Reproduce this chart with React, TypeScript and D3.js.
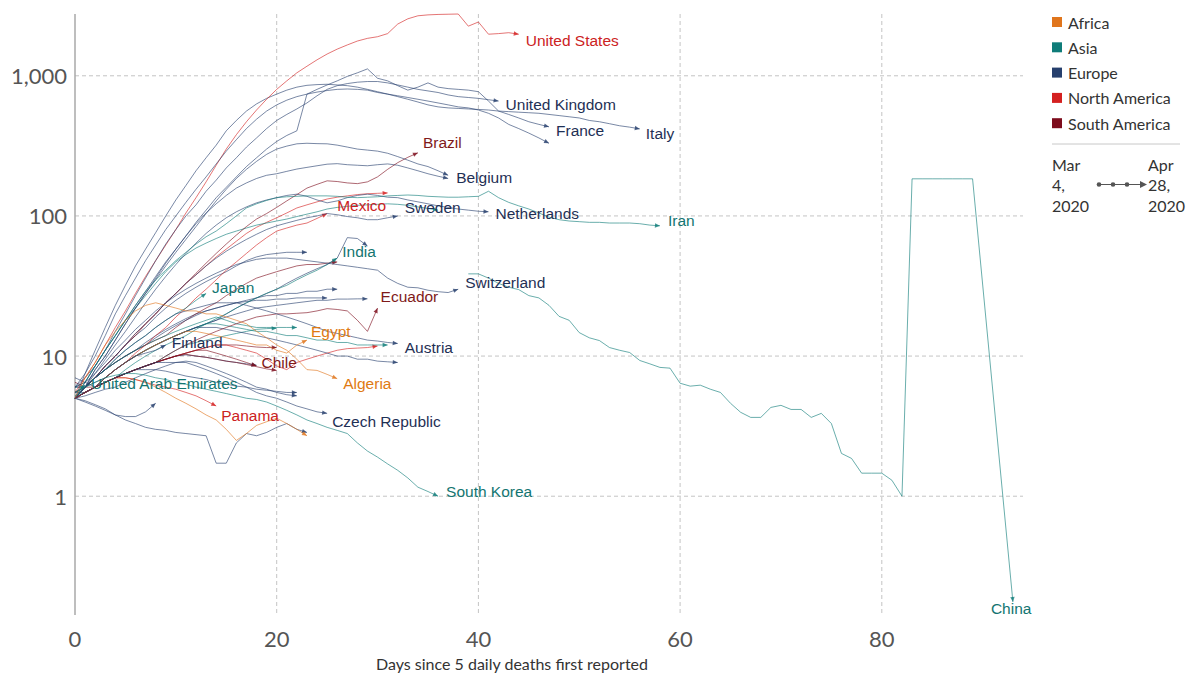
import React from "react";
import * as d3 from "d3";

// ---------- legend / axes ----------
const continents = ["Africa", "Asia", "Europe", "North America", "South America"];
const continentColors = ["#e0751c", "#0f7c79", "#263f6d", "#d42020", "#7d0c1c"];
const labelColors = ["#df7a12", "#137571", "#1f3055", "#cc2222", "#7f1a1a"];
const yTicks = [1, 10, 100, 1000];
const xTicks = [0, 20, 40, 60, 80];
const dateStart = ["Mar", "4,", "2020"];
const dateEnd = ["Apr", "28,", "2020"];
const xTitle = "Days since 5 daily deaths first reported";

// ---------- series values (7-day avg daily deaths, one per day) ----------
const unitedStates = [5.5,7,9,12,16,21,28,37,48,62,80,105,135,175,230,300,380,470,570,680,800,920,1050,1170,1300,1430,1550,1660,1770,1850,1900,2000,2340,2550,2680,2720,2740,2750,2760,2260,2420,1980,2000,2030,1980];
const spain = [5,7.5,11,16,23,32,44,58,76,100,130,165,210,260,320,405,480,560,630,690,740,790,830,855,865,870,860,850,830,800,770,740,720,700,680,660,640,620,600,590,570,540,500,450,420,390,360,330];
const italy = [6,7.5,10,14,20,27,36,48,62,80,100,125,155,190,235,290,350,420,490,560,620,670,710,740,765,785,800,805,800,790,760,740,710,680,650,620,600,590,585,580,575,570,560,555,550,545,540,530,520,510,500,480,470,455,440,430,418];
const unitedKingdom = [5,6.5,8.5,11,15,20,27,36,48,63,80,100,120,150,180,220,260,310,360,420,480,530,580,640,720,800,850,880,900,910,910,890,860,830,800,780,760,730,710,700,690,675,660];
const france = [5.5,6,8,10,13,17,22,28,36,46,58,72,90,110,135,160,190,225,260,300,340,375,405,740,800,860,920,990,1050,1120,960,920,850,790,830,890,830,810,800,790,770,660,560,530,500,470,450,432];
const belgium = [5,6,8,10,13,17,22,28,35,44,55,68,84,104,128,155,185,215,245,275,300,315,327,330,328,327,320,310,300,295,290,280,265,250,235,225,210,195];
const germany = [6,7,8.5,11,14,18,23,29,37,47,58,72,88,105,122,140,158,172,185,195,200,208,216,222,228,234,236,232,230,228,232,235,230,220,210,200,192,185];
const netherlands = [5,6,7.5,9.5,12,15,19,24,30,37,45,54,64,75,86,97,107,116,124,130,135,140,143,138,130,124,128,135,140,143,140,136,135,130,126,122,118,115,112,110,108,107];
const iran = [5,6.5,8.5,11,14,18,23,29,35,41,48,55,63,71,78,88,100,114,122,129,135,137,138,139,139,139,138,136,135,136,137,139,140,141,140,138,137,136,136,137,138,150,135,125,118,112,105,98,94,92,91,90,90,89,89,89,88,86,85];
const brazil = [5,6,7,8.5,10,12,14,17,20,24,28,33,39,46,54,63,73,84,95,104,115,128,142,158,168,178,176,172,170,175,190,215,240,262,282];
const canada = [5.5,6,7,8.5,10,12,14.5,17,20,24,28,33,38,44,51,58,66,75,83,90,97,105,114,120,126,132,136,139,142,144,145,146];
const mexico = [5,5.5,6,7,8,9,10.5,12,14,16,19,22,26,30,35,41,47,54,62,70,78,82,86,89,96,104];
const turkey = [6,6.5,8.5,11,14,18,22,27,33,40,47,53,59,64,69,74,78,82,86,89,92,95,99,103,107,112,115,117,119,120,121,122,121,119,116,113,110];
const sweden = [5,6,7,8.5,10,12,14.5,17,20,24,28,33,38,44,50,56,62,68,74,80,85,89,93,97,100,104,102,99,97,94,94,97,100];
const ireland = [5,6,7,8.5,10,12,14,16,19,22,25,28,31,34,37,40,44,48,51,53,54,55,55,55];
const india = [5,5.5,6,6.5,7,8,9,10,11,12,13,14,15.5,17,18.5,20,22,24,26,28,30,32,35,38,41,45,50];
const peru = [5.5,6,7,8,9,10,11,12,13,14,16,18,20,22,24,27,30,33,36,38,40,42,44,45,45,46,47];
const russia = [5,5.5,6,7,8,9,10,11,12,13,14,15,16,17,18,20,22,24,26,28,30,33,36,39,42,45,50,70,69,61];
const switzerland = [6,6.5,7.5,9,11,13,15.5,18,21,24,27,30,33,36,39,42,45,47,49,50,50,50,49,48,47,46,45,44,43,42,41,36,33,31,30.7,29.5,28.8,28.4,30];
const ecuador = [5,5.5,6,6.5,7,7.5,8,8.5,9,10,11,12,13,14,15,16,17,18,19,19.5,20,20,20.2,20.4,21,21.8,21.5,21,18,15,22];
const portugal = [5,6,7,8,9,10,11,12,13.5,15,16.5,18,19.5,21,22,23,24,24.5,25,25,25.5,25.5,26,26,26,26];
const romania = [5.5,5.5,6,7,8,9,10,11,12,13,14,15,16,17,18,19,20,21,22,22.5,23,23.5,24,24.5,25,25,25.5,25.5,25.6,25.6];
const poland = [5,6,7,8,9,10,11,12.5,14,15.5,17,18.5,20,21,22,23,24,25,26,27,27,28,28,29,29,30,30];
const japan = [5,6,7,8,9.5,11,12.5,14,16,18,20,22,25,28];
const indonesia = [6,6,7,8,9,10,11,12,13,14,15,16,17,18,19,18,17,16.5,16,16,16,16,16];
const egypt = [5,5.5,6,7,8,9,10,11,12,13,14,15,15,14.5,14,13.5,13,12.5,12,12,11,10.5,12,13];
const austria = [5,6,7,8,9.5,11,12.5,14,16,18,20,21,22,23,24,24,24,23,22,21,20,19,18,17,16,15,14.5,14,13.5,13,12.8,12.5,12.3];
const philippines = [5.2,5.5,6,7,8,9,10,11,12,13,14,15,16,17,17,16.5,16,15.5,15,15,14.5,14,14,13.5,13,13,12.5,12.5,12,12,12,12];
const denmark = [6,6,6.5,7,8,9,10,11,12,13,14,15,16,16,16,15.5,15,14.5,14,13.5,13,12.5,12,11.5,11,10.5,10,10,9.5,9.5,9.2,9.1,9];
const finland = [5,5.5,6,7,8,9,10,10.5,11,12];
const chile = [5,5.5,6,6.5,7,7.5,8,8.5,9,9.5,10,10.5,11,11,10.5,10,9.5,9,8.5];
const algeria = [5,7,9,12,15,18,21,23,24,23,22,21,21,20,20,19,18,17,15,13.5,12,11,9.5,8,7.9,7.4,6.9];
const unitedArabEmirates = [5.5,6.2];
const panama = [5,5.5,6,6.5,7,7,6.8,6.5,6.2,6,5.8,5.5,5.2,4.8,4.4];
const czechRepublic = [5,5.5,6,6.5,7,7.5,8,8.5,9,9,9,9,8.5,8,7.5,7,6.5,6,5.5,5.2,5,4.7,4.4,4.2,4,3.9];
const southKorea = [5.5,6,6.5,7,7.3,7.5,7.5,7.3,7,6.8,6.5,6.3,6,5.8,5.6,5.4,5.2,5,4.9,4.7,4.4,4.1,3.8,3.5,3.3,3.1,2.95,2.8,2.4,2.1,1.9,1.7,1.53,1.35,1.16,1.08,1.0];
const luxembourg = [5,4.8,4.5,4.2,3.8,3.7,3.7,4,4.6];
const slovenia = [5,4.7,4.4,4.1,3.8,3.5,3.3,3.1,3,2.95,2.85,2.8,2.75,2.7,1.72,1.72,2.4,2.8,2.7,2.85,3.1,3.3,3,2.85];
const morocco = [5,5.5,6,6.5,7,7,6.8,6.5,6,5.5,5,4.6,4.2,3.8,3.5,3,2.5,2.8,3.2,3.4,3.6,3.3,3,2.7];
const argentina = [6.5,6,6,6.5,7,7.5,8,8.5,9,9.5,10,10.5,11,11.5,12,12,12,11.8,11.6,11.5,11.5];
const greece = [5,5.5,6,6.5,7,7.5,8,8.5,9,9.5,10,10.2,10,9.8,9.5,9.2,9,8.8,8.6];
const norway = [7,6.5,6,6.5,7,7.5,8,8,8,7.8,7.5,7.2,7,6.8,6.5,6.3,6.1,6,5.8,5.7,5.6,5.5,5.5];
const hungary = [5,5.2,5.5,5.8,6,6.5,7,7.5,8,8.5,9,9.2,9,8.5,8,7.5,7,6.5,6,5.8,5.5,5.3,5.2];
const dominicanRepublic = [5,5.5,6,6.5,7,7.5,8,8.5,9,9.5,10,10.5,11,11.5,12,12,11.5,11,10.5,9.5,8.5,8,9,9.5,10,10.5,11,11.3,11.4,11.5,11.8];
const colombia = [5,5.5,6,6.5,7,7.5,8,8.5,9,9.5,10,10.3,10,9.8,9.5,9.2,9,8.7,8.4,8.1,7.9];
const pakistan = [5,5.5,6,6.5,7,7.5,8,8.5,9,10,11,12,12.5,13,13.5,14,14.5,15,15.5,15.7,15.8];
const china = [38.6,38.6,36,33,31,29.8,27,26,23,19.2,18,14.7,13.5,12.9,11.5,11,10.6,9.3,8.8,8.3,8.2,6.4,6.1,6.2,5.8,5.5,4.6,3.97,3.65,3.65,4.3,4.45,4.16,4.16,3.65,3.9,3.3,2.02,1.86,1.46,1.46,1.46,1.3,1.0,184,184,184,184,184,184,184,null,null,null,0.176];

type Series = { name: string; continent: string; start: number; values: (number | null)[]; label: boolean };

const series: Series[] = [
  { name: "Luxembourg", continent: "Europe", start: 0, values: luxembourg, label: false },
  { name: "Slovenia", continent: "Europe", start: 0, values: slovenia, label: false },
  { name: "Morocco", continent: "Africa", start: 0, values: morocco, label: false },
  { name: "Argentina", continent: "South America", start: 0, values: argentina, label: false },
  { name: "Greece", continent: "Europe", start: 0, values: greece, label: false },
  { name: "Norway", continent: "Europe", start: 0, values: norway, label: false },
  { name: "Hungary", continent: "Europe", start: 0, values: hungary, label: false },
  { name: "Dominican Republic", continent: "North America", start: 0, values: dominicanRepublic, label: false },
  { name: "Colombia", continent: "South America", start: 0, values: colombia, label: false },
  { name: "Pakistan", continent: "Asia", start: 0, values: pakistan, label: false },
  { name: "Poland", continent: "Europe", start: 0, values: poland, label: false },
  { name: "Spain", continent: "Europe", start: 0, values: spain, label: false },
  { name: "Germany", continent: "Europe", start: 0, values: germany, label: false },
  { name: "Canada", continent: "North America", start: 0, values: canada, label: false },
  { name: "Turkey", continent: "Asia", start: 0, values: turkey, label: false },
  { name: "Ireland", continent: "Europe", start: 0, values: ireland, label: false },
  { name: "Peru", continent: "South America", start: 0, values: peru, label: false },
  { name: "Russia", continent: "Europe", start: 0, values: russia, label: false },
  { name: "Portugal", continent: "Europe", start: 0, values: portugal, label: false },
  { name: "Romania", continent: "Europe", start: 0, values: romania, label: false },
  { name: "Indonesia", continent: "Asia", start: 0, values: indonesia, label: false },
  { name: "Philippines", continent: "Asia", start: 0, values: philippines, label: false },
  { name: "Denmark", continent: "Europe", start: 0, values: denmark, label: false },
  { name: "United States", continent: "North America", start: 0, values: unitedStates, label: true },
  { name: "United Kingdom", continent: "Europe", start: 0, values: unitedKingdom, label: true },
  { name: "France", continent: "Europe", start: 0, values: france, label: true },
  { name: "Italy", continent: "Europe", start: 0, values: italy, label: true },
  { name: "Brazil", continent: "South America", start: 0, values: brazil, label: true },
  { name: "Belgium", continent: "Europe", start: 0, values: belgium, label: true },
  { name: "Mexico", continent: "North America", start: 0, values: mexico, label: true },
  { name: "Sweden", continent: "Europe", start: 0, values: sweden, label: true },
  { name: "Netherlands", continent: "Europe", start: 0, values: netherlands, label: true },
  { name: "Iran", continent: "Asia", start: 0, values: iran, label: true },
  { name: "India", continent: "Asia", start: 0, values: india, label: true },
  { name: "Switzerland", continent: "Europe", start: 0, values: switzerland, label: true },
  { name: "Japan", continent: "Asia", start: 0, values: japan, label: true },
  { name: "Ecuador", continent: "South America", start: 0, values: ecuador, label: true },
  { name: "Egypt", continent: "Africa", start: 0, values: egypt, label: true },
  { name: "Austria", continent: "Europe", start: 0, values: austria, label: true },
  { name: "Finland", continent: "Europe", start: 0, values: finland, label: true },
  { name: "Chile", continent: "South America", start: 0, values: chile, label: true },
  { name: "Algeria", continent: "Africa", start: 0, values: algeria, label: true },
  { name: "United Arab Emirates", continent: "Asia", start: 0, values: unitedArabEmirates, label: true },
  { name: "Panama", continent: "North America", start: 0, values: panama, label: true },
  { name: "Czech Republic", continent: "Europe", start: 0, values: czechRepublic, label: true },
  { name: "South Korea", continent: "Asia", start: 0, values: southKorea, label: true },
  { name: "China", continent: "Asia", start: 39, values: china, label: true },
];

// label offsets from the line end (pixels)
const labelOffsets: Record<string, [number, number]> = {
  "United States": [7, 6],
  "United Kingdom": [7, 3],
  France: [7, 4],
  Italy: [6, 5],
  Brazil: [5, -10],
  Belgium: [8, 2],
  Mexico: [10, -8],
  Sweden: [7, -8],
  Netherlands: [7, 2],
  Iran: [8, -5],
  India: [5, -7],
  Switzerland: [7, -7],
  Japan: [6, -6],
  Ecuador: [3, -12],
  Egypt: [4, -9],
  Austria: [7, 4],
  Finland: [6, -2],
  Chile: [5, -3],
  Algeria: [6, 5],
  "United Arab Emirates": [6, -2],
  Panama: [5, 9],
  "Czech Republic": [5, 8],
  "South Korea": [8, -5],
  China: [-22, 7],
};

export default function App() {
  const W = 1196;
  const H = 675;
  const x = d3.scaleLinear().domain([0, 94]).range([75, 1023]);
  const y = d3.scaleLog().domain([0.142, 2760]).range([615, 14]);
  const fmt = d3.format(",");
  const colorOf = (c: string) => continentColors[continents.indexOf(c)];
  const labelColorOf = (c: string) => labelColors[continents.indexOf(c)];

  const line = d3
    .line<{ day: number; v: number }>()
    .x((d) => x(d.day))
    .y((d) => y(d.v));

  const built = series.map((s) => {
    const pts = s.values
      .map((v, i) => ({ day: s.start + i, v: v as number }))
      .filter((p) => p.v !== null && p.v !== undefined);
    const last = pts[pts.length - 1];
    const prev = pts[pts.length - 2];
    const ex = x(last.day);
    const ey = y(last.v);
    const ang = (Math.atan2(ey - y(prev.v), ex - x(prev.day)) * 180) / Math.PI;
    return { s, pts, ex, ey, ang };
  });

  const lato = "Lato, 'Noto Sans', sans-serif";
  const arial = "'Liberation Sans', Arial, sans-serif";

  return (
    <svg
      width={W}
      height={H}
      style={{ position: "fixed", left: 0, top: 0, background: "#fff" }}
      xmlns="http://www.w3.org/2000/svg"
    >
      {/* grid */}
      {yTicks.map((t) => (
        <line key={"gy" + t} x1={75} x2={1023} y1={y(t)} y2={y(t)} stroke="#c4c4c4" strokeDasharray="4,3" />
      ))}
      {xTicks
        .filter((t) => t > 0)
        .map((t) => (
          <line key={"gx" + t} x1={x(t)} x2={x(t)} y1={14} y2={615} stroke="#c4c4c4" strokeDasharray="4,3" />
        ))}
      <line x1={75} x2={75} y1={14} y2={615} stroke="#a8a8a8" strokeWidth={1.5} />

      {/* tick labels */}
      {yTicks.map((t) => (
        <text key={"ty" + t} x={67} y={y(t)} textAnchor="end" dominantBaseline="central" fontFamily={lato} fontSize={22} fill="#555">
          {fmt(t)}
        </text>
      ))}
      {xTicks.map((t) => (
        <text key={"tx" + t} x={x(t)} y={638} textAnchor="middle" dominantBaseline="central" fontFamily={lato} fontSize={22} fill="#555">
          {t}
        </text>
      ))}
      <text x={512} y={670} textAnchor="middle" fontFamily={lato} fontSize={16} fill="#333">
        {xTitle}
      </text>

      {/* lines */}
      {built.map(({ s, pts, ex, ey, ang }) => (
        <g key={s.name}>
          <path d={line(pts) || ""} fill="none" stroke={colorOf(s.continent)} strokeOpacity={0.62} strokeWidth={1} strokeLinejoin="round" />
          <path
            d="M0,0 L-5,-2.2 L-5,2.2 Z"
            transform={`translate(${ex},${ey}) rotate(${ang})`}
            fill={colorOf(s.continent)}
            fillOpacity={0.8}
          />
        </g>
      ))}

      {/* labels */}
      {built
        .filter((b) => b.s.label)
        .map(({ s, ex, ey }) => {
          const off = labelOffsets[s.name] || [6, 0];
          return (
            <text
              key={"l" + s.name}
              x={ex + off[0]}
              y={ey + off[1]}
              dominantBaseline="central"
              fontFamily={arial}
              fontSize={15.5}
              fill={labelColorOf(s.continent)}
            >
              {s.name}
            </text>
          );
        })}

      {/* legend */}
      {continents.map((c, i) => (
        <g key={"lg" + c}>
          <rect x={1052} y={17 + i * 25.3} width={10} height={10} fill={continentColors[i]} />
          <text x={1068} y={22 + i * 25.3} dominantBaseline="central" fontFamily={lato} fontSize={16} fill="#333">
            {c}
          </text>
        </g>
      ))}
      <line x1={1052} x2={1180} y1={144} y2={144} stroke="#c8c8c8" />
      {dateStart.map((t, i) => (
        <text key={"ds" + i} x={1052} y={164 + i * 20.5} dominantBaseline="central" fontFamily={lato} fontSize={16} fill="#333">
          {t}
        </text>
      ))}
      {dateEnd.map((t, i) => (
        <text key={"de" + i} x={1148} y={164 + i * 20.5} dominantBaseline="central" fontFamily={lato} fontSize={16} fill="#333">
          {t}
        </text>
      ))}
      <line x1={1098} x2={1141} y1={184.5} y2={184.5} stroke="#555" strokeWidth={1.2} />
      {[1099, 1113, 1127].map((cx) => (
        <circle key={"dot" + cx} cx={cx} cy={184.5} r={2.3} fill="#555" />
      ))}
      <path d="M1147,184.5 L1140,181 L1140,188 Z" fill="#555" />
    </svg>
  );
}
